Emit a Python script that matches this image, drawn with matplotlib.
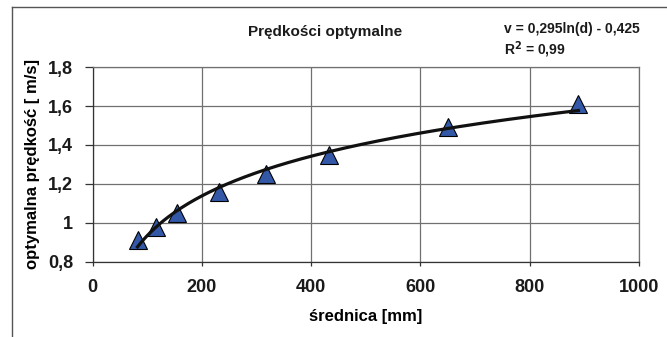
import numpy as np
import matplotlib
matplotlib.use("agg")
import matplotlib.pyplot as plt
from matplotlib.lines import Line2D

# data
srednica = [82, 115, 154, 232, 318, 432, 651, 889]      # mm
predkosc = [0.91, 0.98, 1.05, 1.16, 1.25, 1.35, 1.49, 1.61]  # m/s
x_ticks = [0, 200, 400, 600, 800, 1000]
y_ticks = [0.8, 1.0, 1.2, 1.4, 1.6, 1.8]
y_tick_labels = ["0,8", "1", "1,2", "1,4", "1,6", "1,8"]

plt.rcParams['font.family'] = ['Liberation Sans', 'DejaVu Sans']
plt.rcParams['font.weight'] = 'bold'
plt.rcParams['text.color'] = '#1a1a1a'

fig = plt.figure(figsize=(6.67, 3.37), dpi=100)
ax = fig.add_axes([0.139, 0.223, 0.819, 0.578])

# logarithmic trend line fitted to the points (as the spreadsheet does)
a, b = np.polyfit(np.log(srednica), predkosc, 1)
d = np.linspace(min(srednica), max(srednica), 200)
ax.plot(d, a * np.log(d) + b, color="#111111", lw=2.3, zorder=4)

ax.plot(srednica, predkosc, linestyle="none", marker="^", ms=13,
        mfc="#3358a8", mec="black", mew=0.8, zorder=3)

ax.set_xlim(0, 1000)
ax.set_ylim(0.8, 1.8)
ax.set_xticks(x_ticks)
ax.set_yticks(y_ticks)
ax.set_yticklabels(y_tick_labels)
ax.grid(True, color="#707070", lw=0.9)
ax.set_axisbelow(True)
for s in ax.spines.values():
    s.set_color("#707070")
    s.set_linewidth(0.9)
ax.spines['left'].set_color("#333333")
ax.spines['bottom'].set_color("#333333")
ax.tick_params(axis="y", direction="out", length=6, width=0.9, pad=8,
               labelsize=13, color="#333333", labelcolor="#1a1a1a")
ax.tick_params(axis="x", direction="out", length=3, width=0.9, pad=9,
               labelsize=13, color="#333333", labelcolor="#1a1a1a")

ax.set_xlabel("średnica [mm]", fontsize=12, labelpad=10, fontweight="bold")
ax.set_ylabel("optymalna prędkość [ m/s]", fontsize=12, labelpad=6, fontweight="bold")

fig.text(0.488, 0.905, "Prędkości optymalne", fontsize=11, ha="center", va="center")
fig.text(0.755, 0.914, "v = 0,295ln(d) - 0,425", fontsize=10, ha="left", va="center")
fig.text(0.755, 0.852, "R$^\\mathbf{2}$ = 0,99", fontsize=10, ha="left", va="center")

# outer chart frame (only left and top edges visible)
fig.add_artist(Line2D([0.018, 0.018], [0.0, 0.979], color="#555555", lw=1.0))
fig.add_artist(Line2D([0.018, 1.0], [0.979, 0.979], color="#555555", lw=1.0))

plt.savefig("out.png", dpi=100)
